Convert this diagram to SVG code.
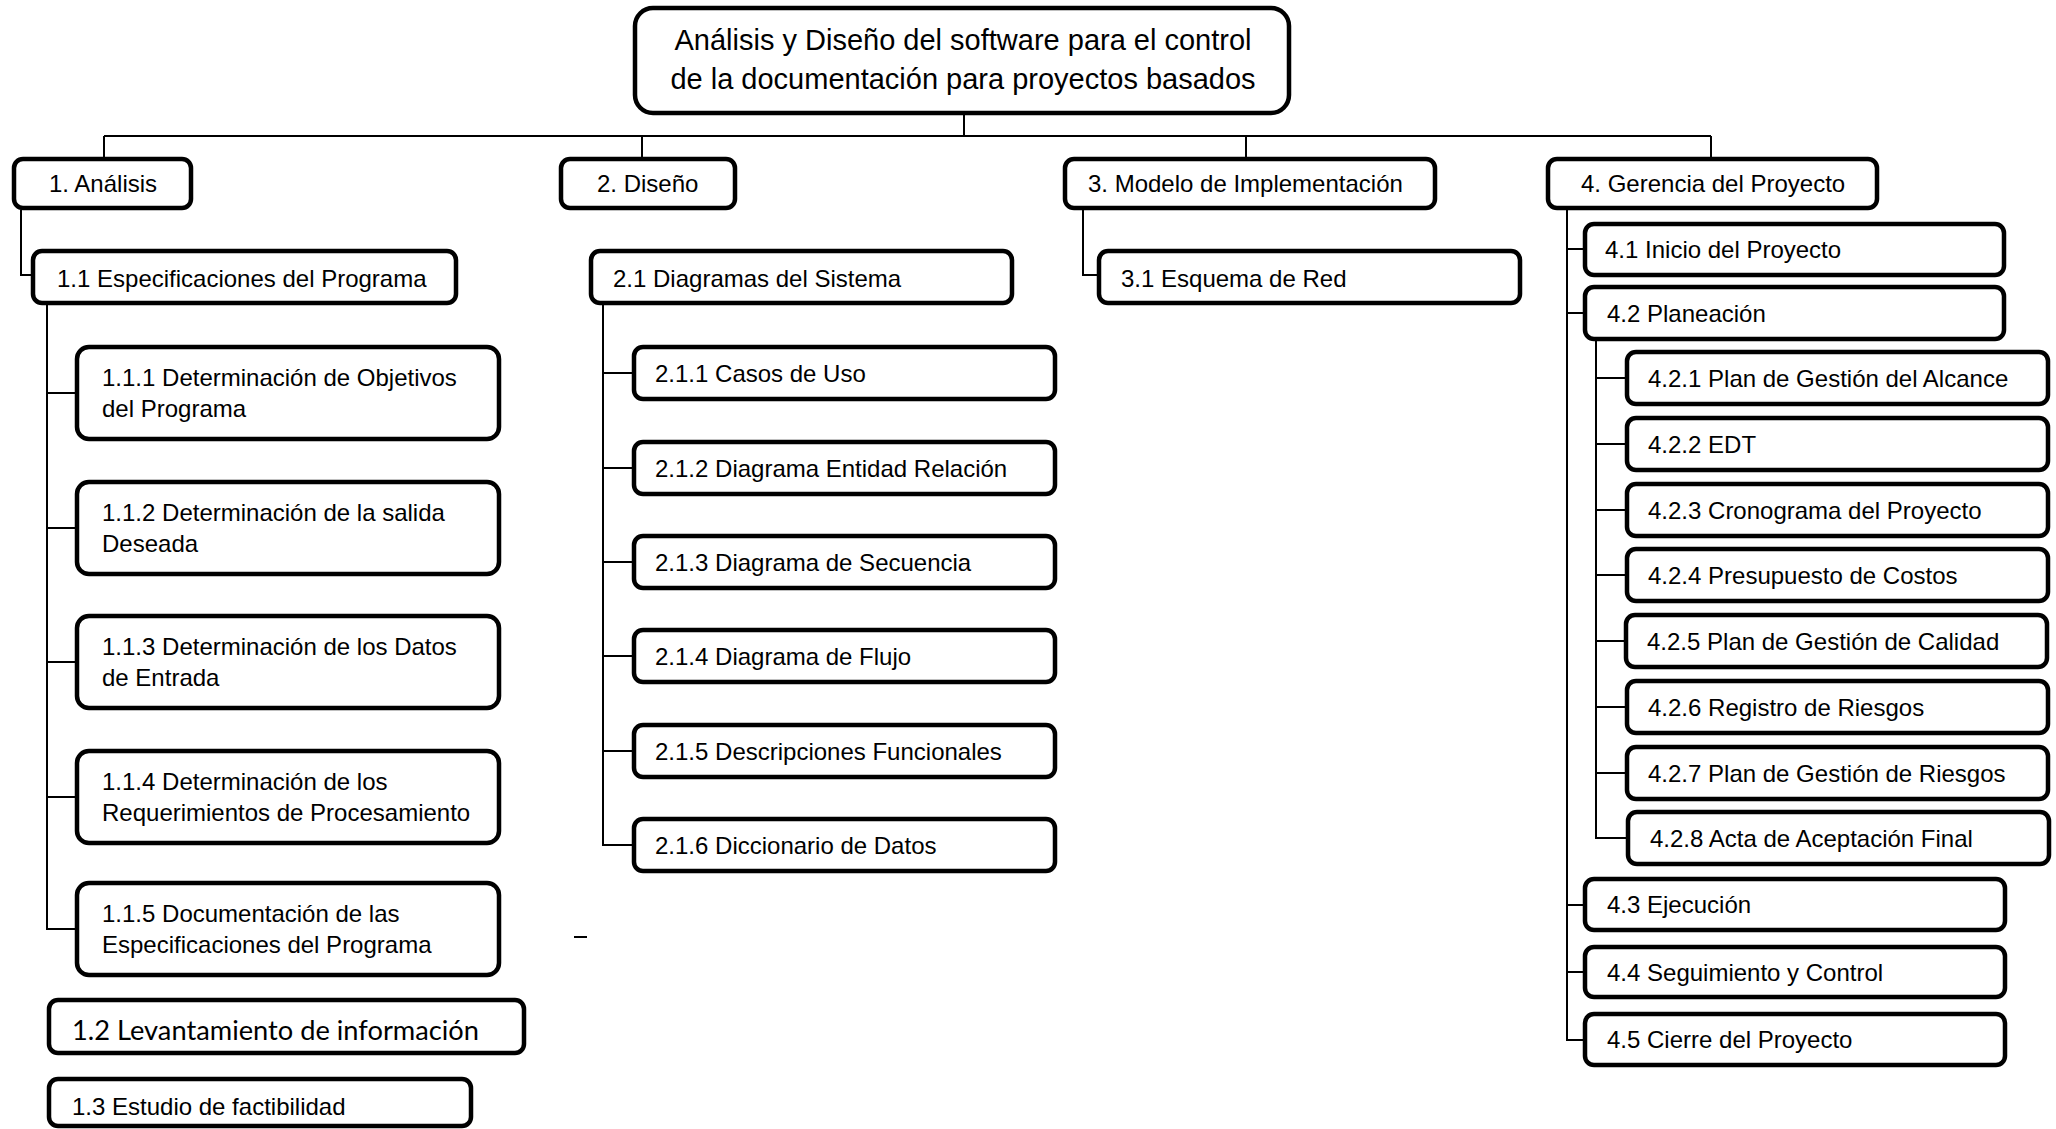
<svg xmlns="http://www.w3.org/2000/svg" width="2056" height="1129" viewBox="0 0 2056 1129">
<style>
.bg{fill:#fff}
.box{fill:#fff;stroke:#000;stroke-width:4.5}
.t{font-family:"Liberation Sans",Arial,sans-serif;font-size:24px;fill:#000}
.tt{font-family:"Liberation Sans",Arial,sans-serif;font-size:29px;fill:#000;text-anchor:middle}
.tc{font-family:Lato,"Open Sans",sans-serif;font-size:27px;fill:#000}
.c{stroke:#000;stroke-width:2;fill:none}
</style>
<rect class="bg" x="0" y="0" width="2056" height="1129"/>
<g id="connectors">
<path class="c" d="M964,115 V136 M104,136 H1711 M104,136 V157 M642,136 V157 M1246,136 V157 M1711,136 V157"/>
<path class="c" d="M21,210 V275 H32"/>
<path class="c" d="M47,305 V929 H75 M47,393 H75 M47,528 H75 M47,662 H75 M47,797 H75"/>
<path class="c" d="M603,304 V845 H632 M603,373 H632 M603,468 H632 M603,562 H632 M603,656 H632 M603,751 H632"/>
<path class="c" d="M1083,210 V275 H1097"/>
<path class="c" d="M1567,210 V1040 H1583 M1567,249 H1583 M1567,313 H1583 M1567,905 H1583 M1567,972 H1583"/>
<path class="c" d="M1596,340 V838 H1626 M1596,378 H1625 M1596,444 H1625 M1596,510 H1625 M1596,575 H1625 M1596,641 H1624 M1596,707 H1625 M1596,773 H1625"/>
<path class="c" d="M574,937 H587"/>
</g>
<g id="root"><rect class="box" x="635" y="8" width="654" height="105" rx="18"/>
<text class="tt" x="963" y="50">Análisis y Diseño del software para el control</text>
<text class="tt" x="963" y="89">de la documentación para proyectos basados</text></g>
<g id="n1"><rect class="box" x="14" y="159" width="177" height="49" rx="9"/><text class="t" x="49" y="192">1. Análisis</text></g>
<g id="n2"><rect class="box" x="561" y="159" width="174" height="49" rx="9"/><text class="t" x="597" y="192">2. Diseño</text></g>
<g id="n3"><rect class="box" x="1065" y="159" width="370" height="49" rx="9"/><text class="t" x="1088" y="192">3. Modelo de Implementación</text></g>
<g id="n4"><rect class="box" x="1548" y="159" width="329" height="49" rx="9"/><text class="t" x="1581" y="192">4. Gerencia del Proyecto</text></g>
<g id="n11"><rect class="box" x="33" y="251" width="423" height="52" rx="9"/><text class="t" x="57" y="286.5">1.1 Especificaciones del Programa</text></g>
<g id="n111"><rect class="box" x="77" y="347" width="422" height="92" rx="12"/><text class="t" x="102" y="385.5">1.1.1 Determinación de Objetivos</text><text class="t" x="102" y="416.5">del Programa</text></g>
<g id="n112"><rect class="box" x="77" y="482" width="422" height="92" rx="12"/><text class="t" x="102" y="521">1.1.2 Determinación de la salida</text><text class="t" x="102" y="552">Deseada</text></g>
<g id="n113"><rect class="box" x="77" y="616" width="422" height="92" rx="12"/><text class="t" x="102" y="655">1.1.3 Determinación de los Datos</text><text class="t" x="102" y="686">de Entrada</text></g>
<g id="n114"><rect class="box" x="77" y="751" width="422" height="92" rx="12"/><text class="t" x="102" y="790">1.1.4 Determinación de los</text><text class="t" x="102" y="821">Requerimientos de Procesamiento</text></g>
<g id="n115"><rect class="box" x="77" y="883" width="422" height="92" rx="12"/><text class="t" x="102" y="922">1.1.5 Documentación de las</text><text class="t" x="102" y="953">Especificaciones del Programa</text></g>
<g id="n12"><rect class="box" x="49" y="1000" width="475" height="53" rx="9"/><text class="tc" x="72" y="1040" textLength="407" lengthAdjust="spacingAndGlyphs">1.2 Levantamiento de información</text></g>
<g id="n13"><rect class="box" x="49" y="1079" width="422" height="47" rx="9"/><text class="t" x="72" y="1114.5">1.3 Estudio de factibilidad</text></g>
<g id="n21"><rect class="box" x="591" y="251" width="421" height="52" rx="9"/><text class="t" x="613" y="286.5">2.1 Diagramas del Sistema</text></g>
<g id="n211"><rect class="box" x="634" y="347" width="421" height="52" rx="9"/><text class="t" x="655" y="381.5">2.1.1 Casos de Uso</text></g>
<g id="n212"><rect class="box" x="634" y="442" width="421" height="52" rx="9"/><text class="t" x="655" y="476.5">2.1.2 Diagrama Entidad Relación</text></g>
<g id="n213"><rect class="box" x="634" y="536" width="421" height="52" rx="9"/><text class="t" x="655" y="570.5">2.1.3 Diagrama de Secuencia</text></g>
<g id="n214"><rect class="box" x="634" y="630" width="421" height="52" rx="9"/><text class="t" x="655" y="664.5">2.1.4 Diagrama de Flujo</text></g>
<g id="n215"><rect class="box" x="634" y="725" width="421" height="52" rx="9"/><text class="t" x="655" y="759.5">2.1.5 Descripciones Funcionales</text></g>
<g id="n216"><rect class="box" x="634" y="819" width="421" height="52" rx="9"/><text class="t" x="655" y="853.5">2.1.6 Diccionario de Datos</text></g>
<g id="n31"><rect class="box" x="1099" y="251" width="421" height="52" rx="9"/><text class="t" x="1121" y="286.5">3.1 Esquema de Red</text></g>
<g id="n41"><rect class="box" x="1585" y="224" width="419" height="51" rx="9"/><text class="t" x="1605" y="258">4.1 Inicio del Proyecto</text></g>
<g id="n42"><rect class="box" x="1585" y="287" width="419" height="52" rx="9"/><text class="t" x="1607" y="321.5">4.2 Planeación</text></g>
<g id="n421"><rect class="box" x="1627" y="352" width="421" height="52" rx="9"/><text class="t" x="1648" y="386.5">4.2.1 Plan de Gestión del Alcance</text></g>
<g id="n422"><rect class="box" x="1627" y="418" width="421" height="52" rx="9"/><text class="t" x="1648" y="452.5">4.2.2 EDT</text></g>
<g id="n423"><rect class="box" x="1627" y="484" width="421" height="52" rx="9"/><text class="t" x="1648" y="518.5">4.2.3 Cronograma del Proyecto</text></g>
<g id="n424"><rect class="box" x="1627" y="549" width="421" height="52" rx="9"/><text class="t" x="1648" y="583.5">4.2.4 Presupuesto de Costos</text></g>
<g id="n425"><rect class="box" x="1626" y="615" width="421" height="52" rx="9"/><text class="t" x="1647" y="649.5">4.2.5 Plan de Gestión de Calidad</text></g>
<g id="n426"><rect class="box" x="1627" y="681" width="421" height="52" rx="9"/><text class="t" x="1648" y="715.5">4.2.6 Registro de Riesgos</text></g>
<g id="n427"><rect class="box" x="1627" y="747" width="421" height="52" rx="9"/><text class="t" x="1648" y="781.5">4.2.7 Plan de Gestión de Riesgos</text></g>
<g id="n428"><rect class="box" x="1628" y="812" width="421" height="52" rx="9"/><text class="t" x="1650" y="846.5">4.2.8 Acta de Aceptación Final</text></g>
<g id="n43"><rect class="box" x="1585" y="879" width="420" height="51" rx="9"/><text class="t" x="1607" y="913">4.3 Ejecución</text></g>
<g id="n44"><rect class="box" x="1585" y="947" width="420" height="50" rx="9"/><text class="t" x="1607" y="980.5">4.4 Seguimiento y Control</text></g>
<g id="n45"><rect class="box" x="1585" y="1014" width="420" height="51" rx="9"/><text class="t" x="1607" y="1048">4.5 Cierre del Proyecto</text></g>
</svg>
